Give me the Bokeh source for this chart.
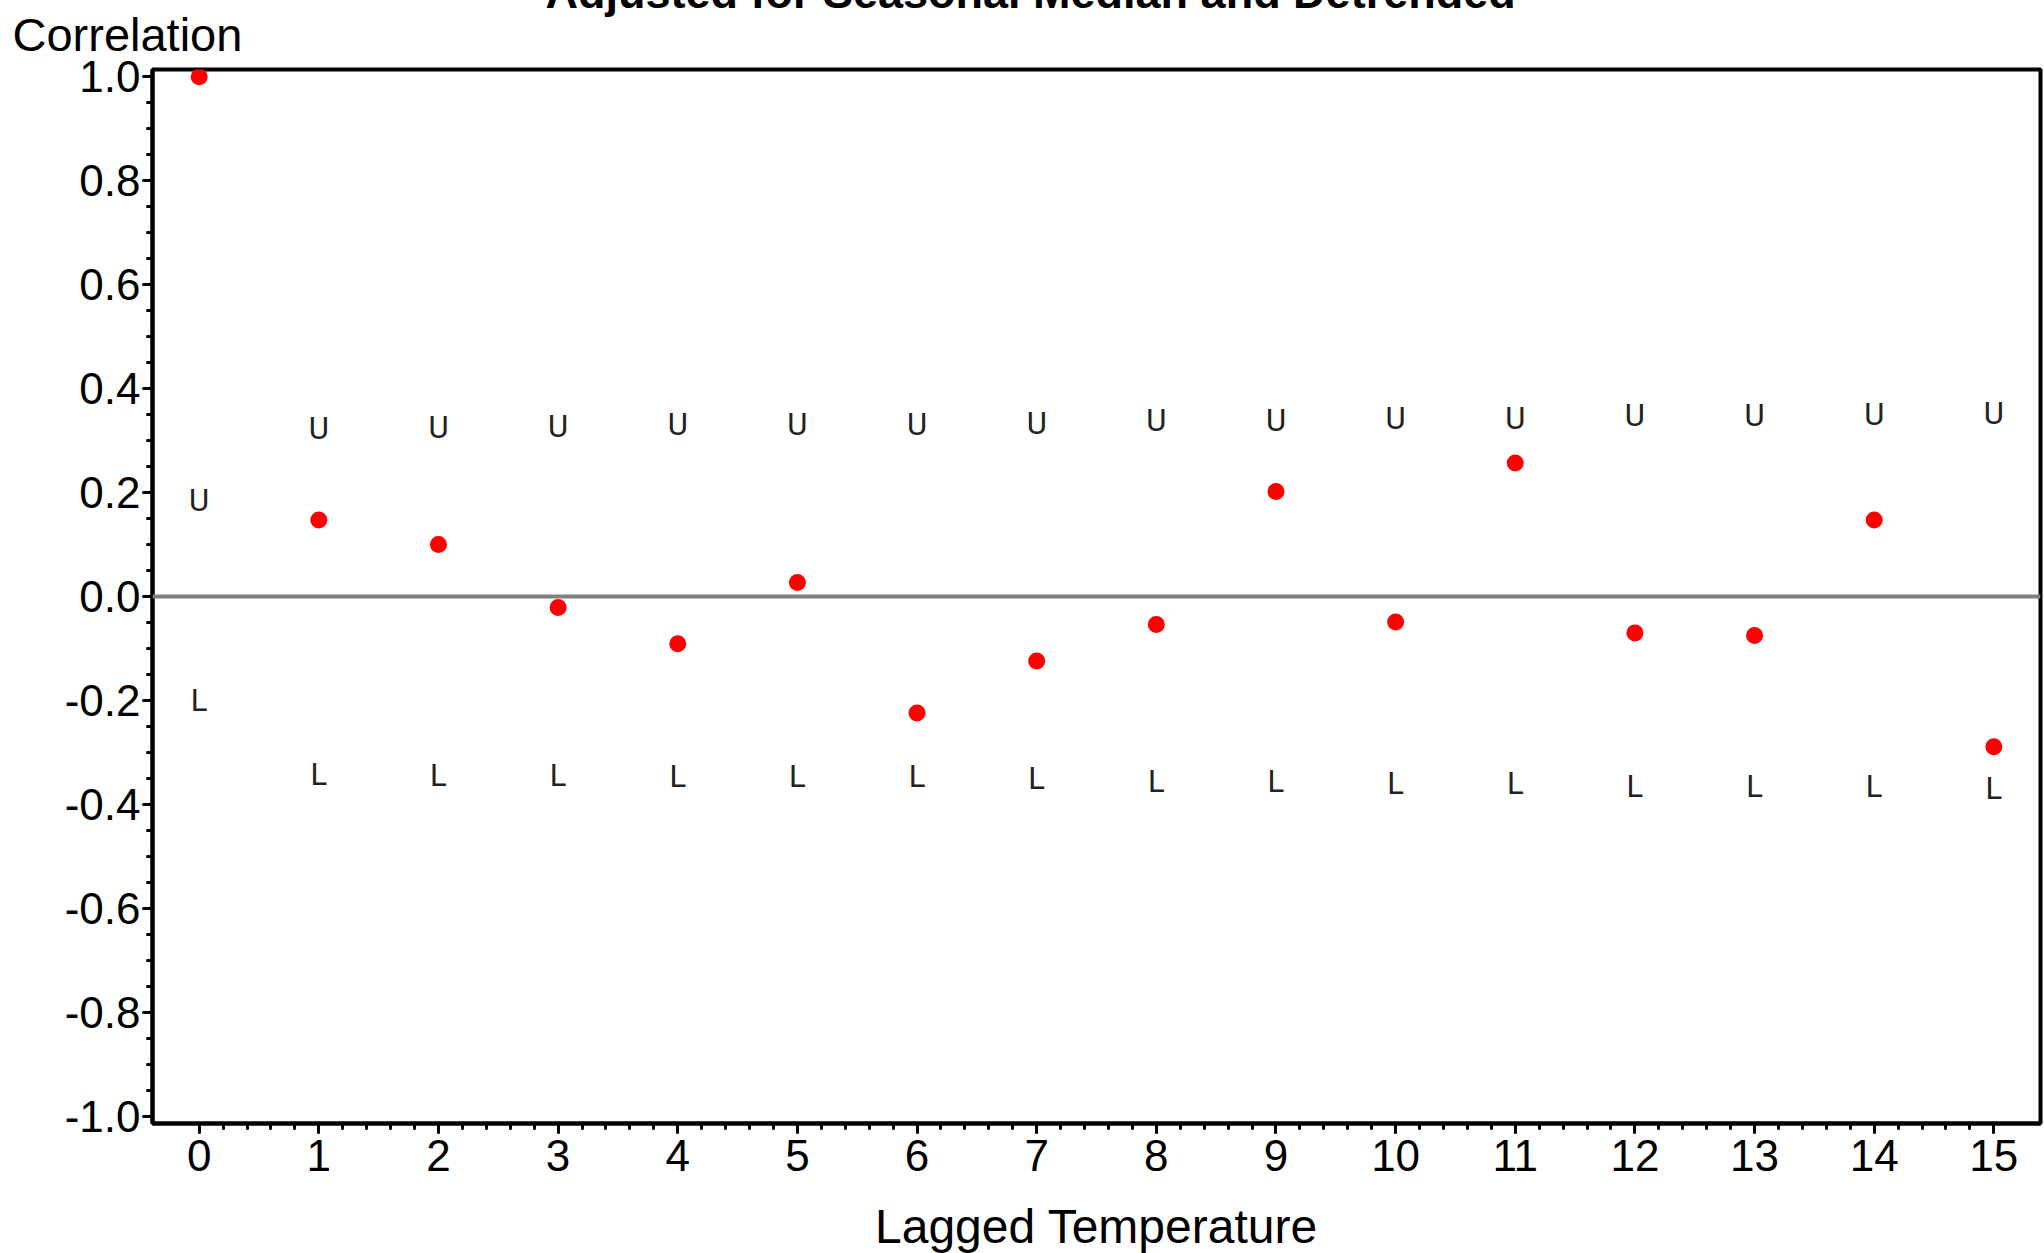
from bokeh.plotting import figure
from bokeh.models import Span, Title, FixedTicker, NumeralTickFormatter, Range1d, ColumnDataSource
from bokeh.core.properties import value
from bokeh.embed import file_html
from bokeh.resources import INLINE

# ---------------- data ----------------
lags = list(range(16))
correlation = [1.0, 0.147, 0.100, -0.021, -0.091, 0.027, -0.224, -0.124,
               -0.054, 0.202, -0.049, 0.257, -0.070, -0.075, 0.147, -0.289]
upper = [0.184, 0.324, 0.326, 0.328, 0.330, 0.330, 0.330, 0.333,
         0.338, 0.338, 0.343, 0.343, 0.349, 0.349, 0.350, 0.352]
lower = [-0.201, -0.342, -0.344, -0.345, -0.347, -0.347, -0.347, -0.350,
         -0.355, -0.355, -0.360, -0.360, -0.366, -0.366, -0.366, -0.369]
x_ticks = list(range(16))
y_ticks = [-1.0, -0.8, -0.6, -0.4, -0.2, 0.0, 0.2, 0.4, 0.6, 0.8, 1.0]
title_text = "Adjusted for Seasonal Median and Detrended"
x_title = "Lagged Temperature"
y_title = "Correlation"

# ---------------- layout ----------------
X0, X1 = -0.39, 15.39
Y0, Y1 = -1.014, 1.014
FW, FH = 1888, 1054
BL, BR, BT, BB = 152, 4, 69, 130

FONT = "Liberation Sans"

p = figure(frame_width=FW, frame_height=FH,
           min_border_left=BL, min_border_right=BR,
           min_border_top=BT, min_border_bottom=BB,
           x_range=Range1d(X0, X1), y_range=Range1d(Y0, Y1),
           output_backend="svg", toolbar_location=None,
           background_fill_color="white", border_fill_color="white")

p.grid.visible = False
p.outline_line_color = "black"
p.outline_line_width = 4

x_minor = [round(i + k * 0.2, 3) for i in x_ticks[:-1] for k in range(1, 5)]
y_minor = [round(v + k * 0.05, 3) for v in y_ticks[:-1] for k in range(1, 4)]

for ax, ticks, minor in ((p.xaxis, x_ticks, x_minor), (p.yaxis, y_ticks, y_minor)):
    ax.ticker = FixedTicker(ticks=ticks, minor_ticks=minor)
    ax.axis_line_width = 4
    ax.axis_line_color = "black"
    ax.major_tick_line_width = 3
    ax.major_tick_line_cap = "round"
    ax.major_tick_out = 9
    ax.major_tick_in = 0
    ax.minor_tick_line_width = 3
    ax.minor_tick_line_cap = "round"
    ax.minor_tick_out = 5
    ax.minor_tick_in = 0
    ax.major_label_text_font = FONT
    ax.major_label_text_font_size = "44px"
    ax.major_label_text_color = "black"

p.xaxis.major_label_standoff = 7
p.yaxis.major_label_standoff = 3
p.yaxis.formatter = NumeralTickFormatter(format="0.0")
p.xaxis.formatter = NumeralTickFormatter(format="0")

p.xaxis.axis_label = x_title
p.xaxis.axis_label_text_font = FONT
p.xaxis.axis_label_text_font_size = "48px"
p.xaxis.axis_label_text_font_style = "normal"
p.xaxis.axis_label_text_color = "black"
p.xaxis.axis_label_standoff = 26

# zero reference line
p.add_layout(Span(location=0, dimension="width", line_color="#808080", line_width=4))

# confidence bound symbols
src = ColumnDataSource(dict(x=lags, u=upper, l=lower, ut=["U"] * len(lags), lt=["L"] * len(lags)))
for ycol, tcol in (("u", "ut"), ("l", "lt")):
    p.text(x="x", y=ycol, text=tcol, source=src, text_align="center", text_baseline="middle",
           text_font=value("Roboto"), text_font_size="31px", text_color="#222222")

# correlations
p.scatter(x=lags, y=correlation, size=17, fill_color="#ff0000", line_color=None)

# titles in the top panel: "Correlation" next to the frame, the main title above it
corr_title = Title(text=y_title, align="left", offset=12 - BL, vertical_align="top", standoff=14,
                   text_font=FONT, text_font_size="47px", text_font_style="normal",
                   text_color="black")
main_title = Title(text=title_text, align="left", offset=545 - BL, vertical_align="top", standoff=-68,
                   text_font=FONT, text_font_size="45px", text_font_style="bold",
                   text_color="black")
p.add_layout(corr_title, "above")
p.add_layout(main_title, "above")

open("out.html", "w").write(file_html(p, INLINE))
